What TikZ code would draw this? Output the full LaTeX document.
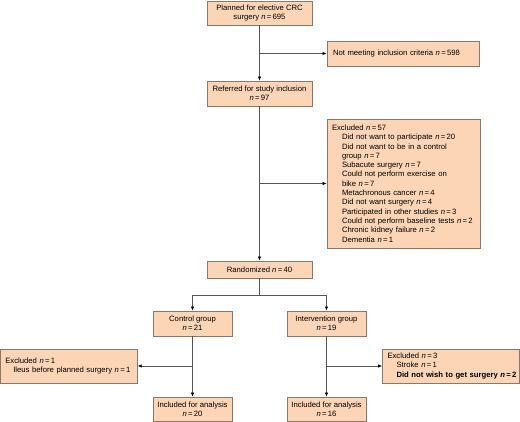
\documentclass[tikz,border=0pt]{standalone}
\usepackage{fontspec}
\setmainfont{Liberation Sans}
\usetikzlibrary{arrows.meta}
\definecolor{boxfill}{RGB}{251,213,181}
\definecolor{boxline}{RGB}{140,120,105}
\definecolor{connline}{RGB}{85,85,85}
\newcommand\nval[1]{\textit{n}\,=\,#1}
\begin{document}
\begin{tikzpicture}[x=1pt,y=-1pt,
  cbox/.style={draw=boxline, fill=boxfill, line width=0.7pt, inner sep=0pt,
    align=center, font=\fontsize{7.7}{9.3}\selectfont},
  lbox/.style={cbox, align=left},
  conn/.style={draw=connline, line width=0.6pt},
  arr/.style={conn, -{Latex[length=4pt,width=3.4pt,color=black]}}]
\useasboundingbox (0,0) rectangle (520,422);

\node[cbox, minimum width=105pt, minimum height=24pt] (top) at (259.5,13)
  {Planned for elective CRC\\surgery \nval{695}};
\node[lbox, text width=140pt, inner xsep=6pt, minimum height=25pt] (nm) at (403,53.5)
  {\mbox{Not meeting inclusion criteria \nval{598}}};
\node[cbox, minimum width=105pt, minimum height=25pt] (ref) at (259.5,93.5)
  {Referred for study inclusion\\\nval{97}};
\node[lbox, text width=143pt, inner xsep=5pt, minimum height=129pt] (ex57) at (403.5,183.5)
  {Excluded \nval{57}\\
   \mbox{\hspace{10pt}Did not want to participate \nval{20}}\\
   \mbox{\hspace{10pt}Did not want to be in a control}\\
   \mbox{\hspace{10pt}group \nval{7}}\\
   \mbox{\hspace{10pt}Subacute surgery \nval{7}}\\
   \mbox{\hspace{10pt}Could not perform exercise on}\\
   \mbox{\hspace{10pt}bike \nval{7}}\\
   \mbox{\hspace{10pt}Metachronous cancer \nval{4}}\\
   \mbox{\hspace{10pt}Did not want surgery \nval{4}}\\
   \mbox{\hspace{10pt}Participated in other studies \nval{3}}\\
   \mbox{\hspace{10pt}Could not perform baseline tests \nval{2}}\\
   \mbox{\hspace{10pt}Chronic kidney failure \nval{2}}\\
   \mbox{\hspace{10pt}Dementia \nval{1}}};
\node[cbox, minimum width=105pt, minimum height=17pt] (rand) at (259.5,269.5)
  {Randomized \nval{40}};
\coordinate (split) at (259.5,295);
\node[cbox, minimum width=79pt, minimum height=25pt] (ctrl) at (192.5,323.5)
  {Control group\\\nval{21}};
\node[cbox, minimum width=79pt, minimum height=25pt] (intv) at (326.5,323.5)
  {Intervention group\\\nval{19}};
\node[lbox, text width=127pt, inner xsep=5pt, minimum height=34pt] (exL) at (68.8,366)
  {Excluded \nval{1}\\
   \mbox{\hspace{8pt}Ileus before planned surgery \nval{1}}};
\node[lbox, text width=127pt, inner xsep=5pt, minimum height=34pt] (exR) at (451,366)
  {Excluded \nval{3}\\
   \mbox{\hspace{9pt}Stroke \nval{1}}\\
   \mbox{\hspace{9pt}\textbf{Did not wish to get surgery \nval{2}}}};
\node[cbox, minimum width=79pt, minimum height=24pt] (incC) at (192.5,409)
  {Included for analysis\\\nval{20}};
\node[cbox, minimum width=79pt, minimum height=24pt] (incI) at (326.5,409)
  {Included for analysis\\\nval{16}};

\draw[arr] (top.south) -- (ref.north);
\draw[arr] (top.south |- nm.west) -- (nm.west);
\draw[arr] (ref.south) -- (rand.north);
\draw[arr] (ref.south |- ex57.west) -- (ex57.west);
\draw[conn] (rand.south) -- (split);
\draw[arr] (split) -| (ctrl.north);
\draw[arr] (split) -| (intv.north);
\draw[arr] (ctrl.south) -- (incC.north);
\draw[arr] (ctrl.south |- exL.east) -- (exL.east);
\draw[arr] (intv.south) -- (incI.north);
\draw[arr] (intv.south |- exR.west) -- (exR.west);
\end{tikzpicture}
\end{document}
